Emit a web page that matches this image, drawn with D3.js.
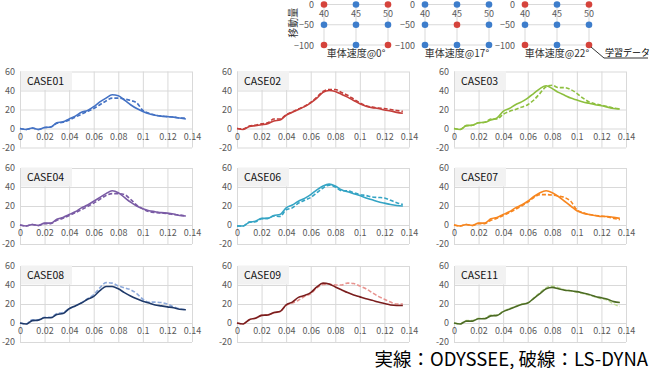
<!DOCTYPE html>
<html>
<head>
<meta charset="utf-8">
<script src="https://cdn.jsdelivr.net/npm/d3@7"></script>
<style>
body { margin: 0; background: #fff; }
text { font-family: "Noto Sans CJK JP", "Noto Sans", sans-serif; }
</style>
</head>
<body>
<div class="canvas"></div>
<script>
const canvasWidth = 650;
const canvasHeight = 369;

// shared time axis (s)
const time = [0, 0.005, 0.01, 0.015, 0.02, 0.025, 0.03, 0.035, 0.04, 0.045, 0.05, 0.055, 0.06, 0.065,
	0.07, 0.075, 0.08, 0.085, 0.09, 0.095, 0.1, 0.105, 0.11, 0.115, 0.12, 0.125, 0.13, 0.135];

const xTicks = [0, 0.02, 0.04, 0.06, 0.08, 0.1, 0.12, 0.14];
const yTicks = [-20, 0, 20, 40, 60];

const caseNames = ['CASE01', 'CASE02', 'CASE03', 'CASE04', 'CASE06', 'CASE07', 'CASE08', 'CASE09', 'CASE11'];

// solid = ODYSSEE, dashed = LS-DYNA
const case01Odyssee = [0, -1, 0.5, -1, 1, 1.5, 6, 7, 10, 13, 17, 19, 23, 28, 32, 35.5, 34.5, 30, 25, 21, 18, 15.5, 14, 13, 12.5, 12, 11, 10];
const case01LsDyna = [0, -1, 0.5, -1, 1, 1.5, 5.5, 6.5, 9, 12, 15, 18, 21, 25, 29, 32, 32, 31, 29.5, 27, 19, 16, 14, 13, 12.5, 12, 11, 11];
const case02Odyssee = [0, -1, 2, 3, 4, 5, 8, 9, 14, 17, 20, 23, 27, 32, 38, 40, 39, 36, 33, 29.5, 26, 23.5, 22, 21, 19.5, 18.5, 17, 16];
const case02LsDyna = [0, -0.5, 2.5, 3.5, 5, 6, 10, 10, 14.5, 17.5, 20.5, 23.5, 27.5, 33, 39, 41, 41, 38, 35, 31, 27, 24, 22.5, 21.5, 21, 20, 19, 18];
const case03Odyssee = [0, -1, 3, 3.5, 6, 6.5, 9, 11, 18, 21, 25, 28, 32, 37, 42, 45, 42, 38, 35, 32, 30, 28, 26.5, 25, 24, 22.5, 21, 20.5];
const case03LsDyna = [0, -1, 3, 3.5, 6, 6.5, 10, 10, 15, 18, 20, 22.5, 25, 30, 37, 44, 45.5, 43, 43, 41, 37, 32, 28, 26, 24.5, 23, 21.5, 20.5];
const case04Odyssee = [0, -1, 0.5, -0.5, 2, 2, 6, 8, 11, 14, 18, 21, 25, 29, 33, 36, 34, 29, 24, 20, 17, 15, 14, 13, 12.5, 11.5, 10, 9.5];
const case04LsDyna = [0, -1, 0.5, -0.5, 1.5, 1.5, 5, 7, 10, 13, 16, 19.5, 23, 27, 31, 33, 33, 32, 27, 21, 17, 14, 13, 12.5, 12, 11, 10.5, 9.5];
const case06Odyssee = [-1, -1, 3, 4, 7, 7, 10, 11, 18, 21, 25, 28, 32, 37, 41, 43, 41, 37, 35, 33, 31, 28.5, 26.5, 24.5, 23, 21.5, 20.5, 20];
const case06LsDyna = [-1, -1, 3, 3.5, 6.5, 7, 9.5, 9, 16, 18, 23, 26, 29, 34, 39, 42, 40, 36, 36, 34, 32, 31, 29.5, 29, 28.5, 26, 23.5, 21.5];
const case07Odyssee = [0, -1, 0.5, -0.5, 2, 2, 6.5, 8, 11, 14, 18, 21, 25, 30, 34, 36, 34, 30, 25, 20, 15, 12.5, 11, 10, 9, 9, 8, 7];
const case07LsDyna = [0, -1, 0.5, -0.5, 1.5, 1.5, 5, 7, 10, 13, 16.5, 20, 24, 29, 32, 32, 31.5, 30.5, 29, 25, 16, 13, 11, 10, 9.5, 8.5, 7, 5.5];
const case08Odyssee = [0, -1, 2.5, 3, 5.5, 5.5, 9, 10, 15, 18, 21, 25, 28, 34, 38.5, 38.5, 36, 32, 28.5, 25.5, 23, 21, 19, 18, 17, 16, 14.5, 14];
const case08LsDyna = [0, -1, 3.5, 3.5, 6, 6, 10, 11, 15, 18, 21.5, 25.5, 30, 37, 42.5, 42, 39, 37, 35, 31, 25, 22, 22, 21.5, 20, 17, 15, 14];
const case09Odyssee = [0, -1, 3.5, 5, 8, 8.5, 11, 12, 19, 22, 27, 29, 32, 38, 42, 41, 38, 35, 32, 29.5, 27.5, 25.5, 24, 22, 20.5, 19, 18.5, 18.5];
const case09LsDyna = [0, -1, 3.5, 5, 8, 8.5, 10.5, 12, 18.5, 21, 24, 28, 31, 37, 40.5, 41, 40, 40, 42, 41.5, 39, 36, 32, 28, 25, 22, 20, 20];
const case11Odyssee = [0, -1, 2, 2, 4.5, 4.5, 7.5, 8, 12, 14.5, 17, 19.5, 21, 26, 31, 36, 37.5, 36, 34.5, 34, 33, 31.5, 30, 28, 26.5, 25, 22.5, 21.5];
const case11LsDyna = [0, -1, 2.5, 2.5, 5, 5, 8.5, 8, 12.5, 15, 17.5, 20, 21, 26.5, 32, 37, 39, 37, 35, 34, 32.5, 31, 29.5, 27.5, 25.5, 24, 20, 17.5];

const odysseeSeries = [case01Odyssee, case02Odyssee, case03Odyssee, case04Odyssee, case06Odyssee, case07Odyssee, case08Odyssee, case09Odyssee, case11Odyssee];
const lsDynaSeries = [case01LsDyna, case02LsDyna, case03LsDyna, case04LsDyna, case06LsDyna, case07LsDyna, case08LsDyna, case09LsDyna, case11LsDyna];

const solidColors = ['#4472c4', '#c43e3a', '#8dbf3e', '#7a5ba5', '#35a4c4', '#f7861f', '#1f3a6a', '#7a1d1d', '#4c6b24'];
const dashColors = ['#4472c4', '#c43e3a', '#8dbf3e', '#7a5ba5', '#35a4c4', '#f7861f', '#8eaadb', '#e8938f', '#c2dc9a'];

// top diagram data
const speeds = [40, 45, 50];
const moves = [0, -50, -100];
const angleTitles = ['車体速度@0°', '車体速度@17°', '車体速度@22°'];
const trainingPoints = [
	[[40, 0], [50, 0], [40, -100], [50, -100]],
	[[45, -50]],
	[[40, 0], [50, 0], [40, -100], [50, -100]]
];

const svg = d3.select('.canvas')
	.append('svg')
	.attr('width', canvasWidth)
	.attr('height', canvasHeight);

// ---- small panels ----
const colX = [20, 237, 454];
const rowTop = [71.5, 168, 266];
const plotW = 172;
const plotH = 76;
const gridColor = '#d9d9d9';
const labelColor = '#595959';

caseNames.forEach((name, i) => {
	const col = i % 3;
	const row = Math.floor(i / 3);
	const g = svg.append('g')
		.attr('transform', `translate(${colX[col]},${rowTop[row]})`);

	const x = d3.scaleLinear().domain([0, 0.14]).range([0, plotW]);
	const y = d3.scaleLinear().domain([-20, 60]).range([plotH, 0]);

	const yAxis = g.append('g')
		.call(d3.axisLeft(y).tickValues(yTicks).tickSize(-plotW).tickPadding(5)
			.tickFormat(d => d < 0 ? '-' + Math.abs(d) : String(d)));
	yAxis.select('.domain').remove();
	yAxis.selectAll('line').attr('stroke', gridColor);
	yAxis.selectAll('text').attr('fill', labelColor).attr('font-size', '9px')
		.attr('font-family', '"Noto Sans", sans-serif');

	const xGrid = g.append('g')
		.attr('transform', `translate(0,${plotH})`)
		.call(d3.axisBottom(x).tickValues(xTicks).tickSize(-plotH).tickFormat(''));
	xGrid.select('.domain').remove();
	xGrid.selectAll('line').attr('stroke', gridColor);

	const xLabels = g.append('g')
		.attr('transform', `translate(0,${y(0)})`)
		.call(d3.axisBottom(x).tickValues(xTicks).tickSize(0).tickPadding(5).tickFormat(d => String(d)));
	xLabels.select('.domain').remove();
	xLabels.selectAll('text').attr('fill', labelColor).attr('font-size', '9px')
		.attr('font-family', '"Noto Sans", sans-serif');

	const solidData = time.map((t, k) => [t, odysseeSeries[i][k]]);
	const dashData = time.map((t, k) => [t, lsDynaSeries[i][k]]);
	const line = d3.line()
		.x(d => x(d[0]))
		.y(d => y(d[1]))
		.curve(d3.curveMonotoneX);

	g.append('path')
		.attr('d', line(dashData))
		.attr('fill', 'none')
		.attr('stroke', dashColors[i])
		.attr('stroke-width', 1.6)
		.attr('stroke-dasharray', '4,2');

	g.append('path')
		.attr('d', line(solidData))
		.attr('fill', 'none')
		.attr('stroke', solidColors[i])
		.attr('stroke-width', 1.6);

	// case label box
	g.append('rect')
		.attr('x', 1)
		.attr('y', -0.5)
		.attr('width', 51)
		.attr('height', 19)
		.attr('fill', '#f2f2f2');
	g.append('text')
		.attr('x', 7)
		.attr('y', 13)
		.attr('font-size', '10.5px')
		.attr('font-family', '"Noto Sans", sans-serif')
		.attr('fill', '#111')
		.text(name);
});

// ---- top diagram: training points ----
const gridLeft = [324, 425, 525];
const gridWidth = 64;
const gridTop = 4.5;
const gridBottom = 45;

angleTitles.forEach((title, i) => {
	const x = d3.scaleLinear().domain([40, 50]).range([gridLeft[i], gridLeft[i] + gridWidth]);
	const y = d3.scaleLinear().domain([0, -100]).range([gridTop, gridBottom]);
	const g = svg.append('g');

	g.selectAll('.vline').data(speeds).enter().append('line')
		.attr('x1', d => x(d)).attr('x2', d => x(d))
		.attr('y1', y(0)).attr('y2', y(-100))
		.attr('stroke', gridColor);
	g.selectAll('.hline').data(moves).enter().append('line')
		.attr('x1', x(40)).attr('x2', x(50))
		.attr('y1', d => y(d)).attr('y2', d => y(d))
		.attr('stroke', gridColor);

	g.selectAll('.xlab').data(speeds).enter().append('text')
		.attr('x', d => x(d))
		.attr('y', y(0) + 12)
		.attr('text-anchor', 'middle')
		.attr('font-size', '9px')
		.attr('font-family', '"Noto Sans", sans-serif')
		.attr('fill', labelColor)
		.text(d => d);
	g.selectAll('.ylab').data(moves).enter().append('text')
		.attr('x', x(40) - 10)
		.attr('y', d => y(d) + 3.5)
		.attr('text-anchor', 'end')
		.attr('font-size', '9px')
		.attr('font-family', '"Noto Sans", sans-serif')
		.attr('fill', labelColor)
		.text(d => d === 0 ? '0' : '\u2212' + Math.abs(d));

	const points = [];
	speeds.forEach(s => moves.forEach(m => {
		const red = trainingPoints[i].some(p => p[0] === s && p[1] === m);
		points.push({ s, m, red });
	}));
	g.selectAll('circle').data(points).enter().append('circle')
		.attr('cx', d => x(d.s))
		.attr('cy', d => y(d.m))
		.attr('r', 3.3)
		.attr('fill', d => d.red ? '#d5433b' : '#3d7dcb');

	g.append('text')
		.attr('x', x(45))
		.attr('y', 57)
		.attr('text-anchor', 'middle')
		.attr('font-size', '10px')
		.attr('fill', '#333')
		.text(title);

	if (i === 0) {
		g.append('text')
			.attr('transform', `translate(297,${(gridTop + gridBottom) / 2 - 2}) rotate(-90)`)
			.attr('text-anchor', 'middle')
			.attr('font-size', '10px')
			.attr('fill', '#333')
			.text('移動量');
	}
	if (i === 2) {
		g.append('polyline')
			.attr('points', `${x(50) + 2},${y(-100) + 2} ${x(50) + 15},${58} ${648},${58}`)
			.attr('fill', 'none')
			.attr('stroke', '#333')
			.attr('stroke-width', 1);
		g.append('text')
			.attr('x', 605)
			.attr('y', 56)
			.attr('font-size', '9px')
			.attr('fill', '#000')
			.text('学習データ');
	}
});

// caption
svg.append('text')
	.attr('x', 648)
	.attr('y', 366)
	.attr('text-anchor', 'end')
	.attr('font-size', '18.5px')
	.attr('fill', '#000')
	.text('実線：ODYSSEE, 破線：LS-DYNA');
</script>
</body>
</html>
